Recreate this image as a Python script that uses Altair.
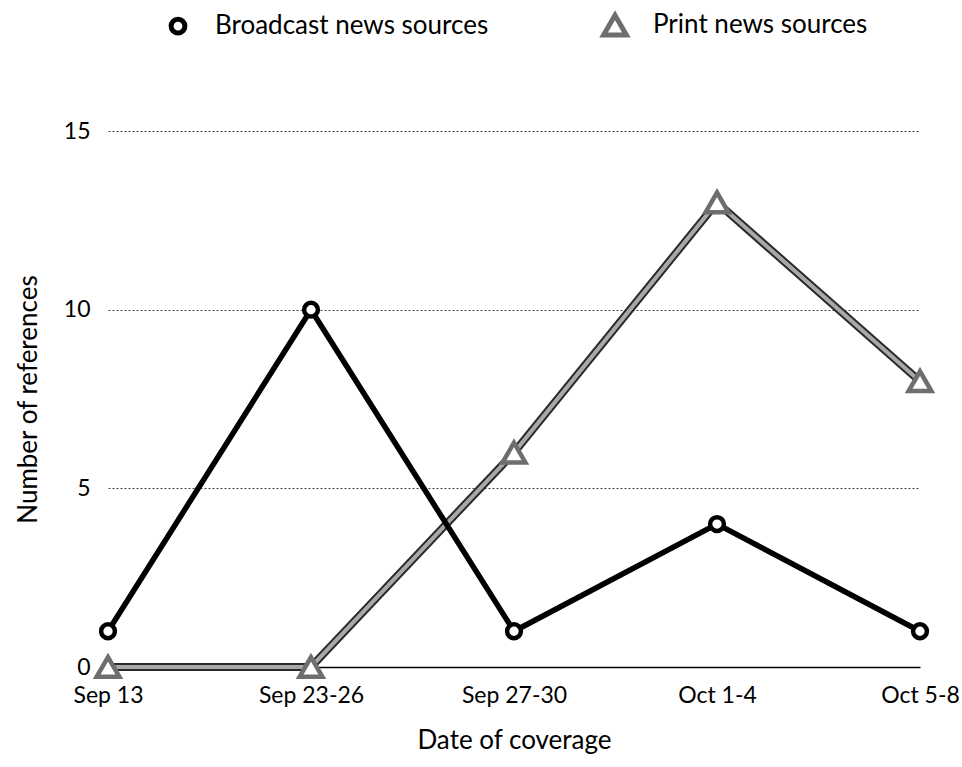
import altair as alt
import pandas as pd

dates = ["Sep 13", "Sep 23-26", "Sep 27-30", "Oct 1-4", "Oct 5-8"]
broadcast = [1, 10, 1, 4, 1]
printed = [0, 0, 6, 13, 8]
series_names = ["Broadcast news sources", "Print news sources"]

rows = []
for d, b, p in zip(dates, broadcast, printed):
    rows.append({"date": d, "series": series_names[0], "value": b})
    rows.append({"date": d, "series": series_names[1], "value": p})
df = pd.DataFrame(rows)

FONT = "Lato"

x_enc = alt.X("date:N", sort=dates, scale=alt.Scale(type="point", padding=0),
              axis=alt.Axis(title="Date of coverage", labelAngle=0, ticks=False,
                            domainColor="black", domainWidth=1.5,
                            labelPadding=17, titlePadding=20,
                            labelFontSize=23, titleFontSize=26,
                            labelColor="black", titleColor="black",
                            titleFontWeight="normal", labelFont=FONT, titleFont=FONT))
y_enc = alt.Y("value:Q", scale=alt.Scale(domain=[0, 15], nice=False),
              axis=alt.Axis(title="Number of references", values=[0, 5, 10, 15],
                            domain=False, ticks=False, labelPadding=18,
                            titlePadding=22, labelFontSize=23, titleFontSize=26,
                            labelColor="black", titleColor="black",
                            titleFontWeight="normal", labelFont=FONT, titleFont=FONT,
                            gridDash=[2, 2], gridColor="#444", gridWidth=1))

base = alt.Chart(df)

print_filter = alt.datum.series == series_names[1]
bc_filter = alt.datum.series == series_names[0]

print_outline = base.transform_filter(print_filter).mark_line(
    color="#2a2a2a", strokeWidth=8).encode(x=x_enc, y=y_enc)
print_inner = base.transform_filter(print_filter).mark_line(
    color="#a8a8a8", strokeWidth=4).encode(x=x_enc, y=y_enc)
bc_line = base.transform_filter(bc_filter).mark_line(
    color="black", strokeWidth=5.5).encode(x=x_enc, y=y_enc)

points = base.mark_point(filled=False, fill="white", strokeWidth=4.5, opacity=1).encode(
    x=x_enc, y=y_enc,
    color=alt.Color("series:N", scale=alt.Scale(domain=series_names, range=["black", "#6e6e6e"]),
                    legend=alt.Legend(title=None, orient="none", legendX=57, legendY=-120,
                                      direction="horizontal", labelFontSize=26,
                                      labelFont=FONT, labelColor="black", labelLimit=0,
                                      symbolSize=220, symbolStrokeWidth=5,
                                      symbolFillColor="white",
                                      labelOffset=24, columnPadding=104, padding=0)),
    shape=alt.Shape("series:N", scale=alt.Scale(domain=series_names, range=["circle", "triangle-up"])),
    size=alt.Size("series:N", scale=alt.Scale(domain=series_names, range=[190, 520]), legend=None),
)

chart = alt.layer(print_outline, print_inner, bc_line, points).properties(
    width=812, height=536,
    autosize=alt.AutoSizeParams(type="none"),
    padding={"left": 108, "top": 131, "right": 42, "bottom": 100},
).configure(background="white").configure_view(stroke=None)

chart.save("out.html", embed_options={"renderer": "svg", "actions": False})
